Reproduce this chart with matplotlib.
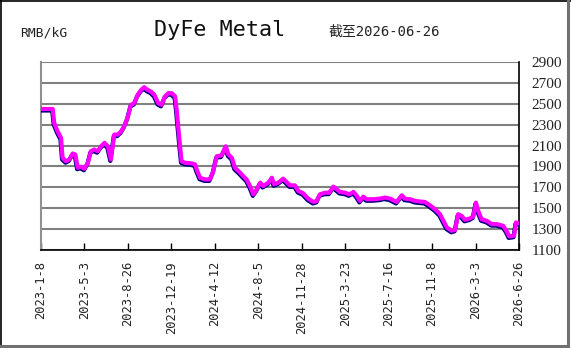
import matplotlib
matplotlib.use("Agg")
import matplotlib.pyplot as plt
import matplotlib.patheffects as pe
from matplotlib.lines import Line2D
import pandas as pd

dates = [
    "2023-01-08", "2023-02-08", "2023-02-12", "2023-02-21", "2023-03-02", "2023-03-06",
    "2023-03-15", "2023-03-24", "2023-04-02", "2023-04-09", "2023-04-15", "2023-04-24",
    "2023-05-03", "2023-05-12", "2023-05-20", "2023-05-29", "2023-06-07", "2023-06-16",
    "2023-06-25", "2023-07-04", "2023-07-12", "2023-07-21", "2023-07-30", "2023-08-08",
    "2023-08-16", "2023-08-25", "2023-09-03", "2023-09-12", "2023-09-21", "2023-09-30",
    "2023-10-08", "2023-10-17", "2023-10-26", "2023-11-04", "2023-11-14", "2023-11-23",
    "2023-12-02", "2023-12-11", "2023-12-20", "2023-12-29", "2024-01-02", "2024-01-06",
    "2024-01-11", "2024-01-15", "2024-01-24", "2024-02-11", "2024-02-20", "2024-02-24",
    "2024-03-04", "2024-03-17", "2024-03-30", "2024-04-08", "2024-04-17", "2024-04-30",
    "2024-05-11", "2024-05-18", "2024-05-27", "2024-06-04", "2024-06-18", "2024-06-26",
    "2024-07-05", "2024-07-14", "2024-07-23", "2024-08-01", "2024-08-10", "2024-08-18",
    "2024-09-01", "2024-09-10", "2024-09-16", "2024-09-27", "2024-10-10", "2024-10-19",
    "2024-10-28", "2024-11-10", "2024-11-19", "2024-12-02", "2024-12-15", "2024-12-29",
    "2025-01-07", "2025-01-15", "2025-01-29", "2025-02-09", "2025-02-20", "2025-03-01",
    "2025-03-09", "2025-03-23", "2025-04-03", "2025-04-14", "2025-04-23", "2025-05-01",
    "2025-05-10", "2025-05-19", "2025-06-05", "2025-06-23", "2025-07-06", "2025-07-20",
    "2025-08-06", "2025-08-20", "2025-08-28", "2025-09-11", "2025-09-24", "2025-10-07",
    "2025-10-20", "2025-11-02", "2025-11-16", "2025-11-29", "2025-12-08", "2025-12-17",
    "2025-12-30", "2026-01-08", "2026-01-16", "2026-01-25", "2026-02-03", "2026-02-16",
    "2026-02-25", "2026-03-04", "2026-03-10", "2026-03-19", "2026-04-02", "2026-04-15",
    "2026-04-28", "2026-05-15", "2026-05-24", "2026-05-31", "2026-06-13", "2026-06-18",
    "2026-06-26",
]
prices = [
    2450, 2450, 2316, 2236, 2173, 1983,
    1950, 1967, 2024, 2014, 1888, 1897,
    1878, 1935, 2046, 2062, 2046, 2093,
    2126, 2093, 1967, 2205, 2205, 2236,
    2284, 2364, 2490, 2507, 2586, 2633,
    2659, 2633, 2617, 2586, 2507, 2490,
    2570, 2602, 2602, 2570, 2443, 2284,
    2093, 1950, 1935, 1929, 1919, 1871,
    1792, 1776, 1776, 1855, 1998, 2005,
    2093, 2014, 1983, 1888, 1840, 1808,
    1776, 1713, 1633, 1681, 1745, 1713,
    1745, 1792, 1729, 1745, 1783, 1751,
    1719, 1719, 1665, 1643, 1592, 1560,
    1570, 1633, 1649, 1649, 1707, 1681,
    1656, 1649, 1633, 1656, 1617, 1570,
    1611, 1586, 1586, 1592, 1602, 1592,
    1560, 1624, 1592, 1586, 1570, 1564,
    1560, 1529, 1490, 1443, 1379, 1316,
    1284, 1294, 1443, 1427, 1389, 1402,
    1421, 1554, 1475, 1395, 1379, 1348,
    1348, 1332, 1284, 1230, 1237, 1364,
    1357,
]
tick_dates = ["2023-01-08", "2023-05-03", "2023-08-26", "2023-12-19", "2024-04-12",
              "2024-08-05", "2024-11-28", "2025-03-23", "2025-07-16", "2025-11-08",
              "2026-03-03", "2026-06-26"]
tick_labels = ["2023-1-8", "2023-5-3", "2023-8-26", "2023-12-19", "2024-4-12",
               "2024-8-5", "2024-11-28", "2025-3-23", "2025-7-16", "2025-11-8",
               "2026-3-3", "2026-6-26"]
y_ticks = [1100, 1300, 1500, 1700, 1900, 2100, 2300, 2500, 2700, 2900]

W, H = 571, 348
fig = plt.figure(figsize=(W / 100, H / 100), dpi=100)
fig.patch.set_facecolor("white")
ax = fig.add_axes([41 / W, (H - 250) / H, 478 / W, 188 / H])

x = pd.to_datetime(dates)
ax.plot(x, prices, color="#FF00FF", lw=3.0, solid_joinstyle="round", solid_capstyle="round",
        path_effects=[pe.SimpleLineShadow(offset=(-0.4, -1.1), shadow_color="#000080", alpha=1.0),
                      pe.Normal()], zorder=3)

ax.set_xlim(pd.Timestamp(tick_dates[0]), pd.Timestamp(tick_dates[-1]))
ax.set_ylim(y_ticks[0], y_ticks[-1])
ax.set_xticks(pd.to_datetime(tick_dates))
ax.set_xticklabels(tick_labels, rotation=90, family="DejaVu Sans Mono", fontsize=8.7,
                   color="#222222", va="top", ha="center")
ax.set_yticks(y_ticks)
ax.set_yticklabels([str(v) for v in y_ticks], family="Liberation Serif", fontsize=11, color="#222222")
ax.yaxis.tick_right()
ax.tick_params(axis="y", length=0, pad=9)
ax.tick_params(axis="x", direction="in", length=5, width=1, color="black", pad=8)

ax.grid(axis="y", color="#808080", lw=1.5)
ax.set_axisbelow(True)
ax.spines["top"].set_visible(False)
ax.spines["left"].set_color("#909090")
ax.spines["left"].set_linewidth(1.5)
ax.spines["right"].set_color("black")
ax.spines["right"].set_linewidth(1.2)
ax.spines["bottom"].set_color("black")
ax.spines["bottom"].set_linewidth(1.2)

fig.text(20 / W, (H - 36) / H, "RMB/kG", family="DejaVu Sans Mono", fontsize=9.4,
         ha="left", va="baseline", color="#222222")
fig.text(220 / W, (H - 36) / H, "DyFe Metal", family="DejaVu Sans Mono", fontsize=15.7,
         ha="center", va="baseline", color="#111111")
fig.text(328 / W, (H - 36) / H, "截至2026-06-26", family=["DejaVu Sans Mono", "Noto Sans CJK SC"],
         fontsize=10, ha="left", va="baseline", color="#222222")

# figure frame
fig.add_artist(Line2D([0.5 / W, 0.5 / W], [0, 1], color="black", lw=1.2, transform=fig.transFigure))
fig.add_artist(Line2D([0, 1], [1 - 0.5 / H, 1 - 0.5 / H], color="black", lw=1.2, transform=fig.transFigure))
fig.add_artist(Line2D([1 - 3 / W, 1 - 3 / W], [2 / H, 1], color="#707070", lw=2.2, transform=fig.transFigure))
fig.add_artist(Line2D([0, 1 - 3 / W], [2 / H, 2 / H], color="#707070", lw=2.2, transform=fig.transFigure))

fig.savefig("out.png", dpi=100)
